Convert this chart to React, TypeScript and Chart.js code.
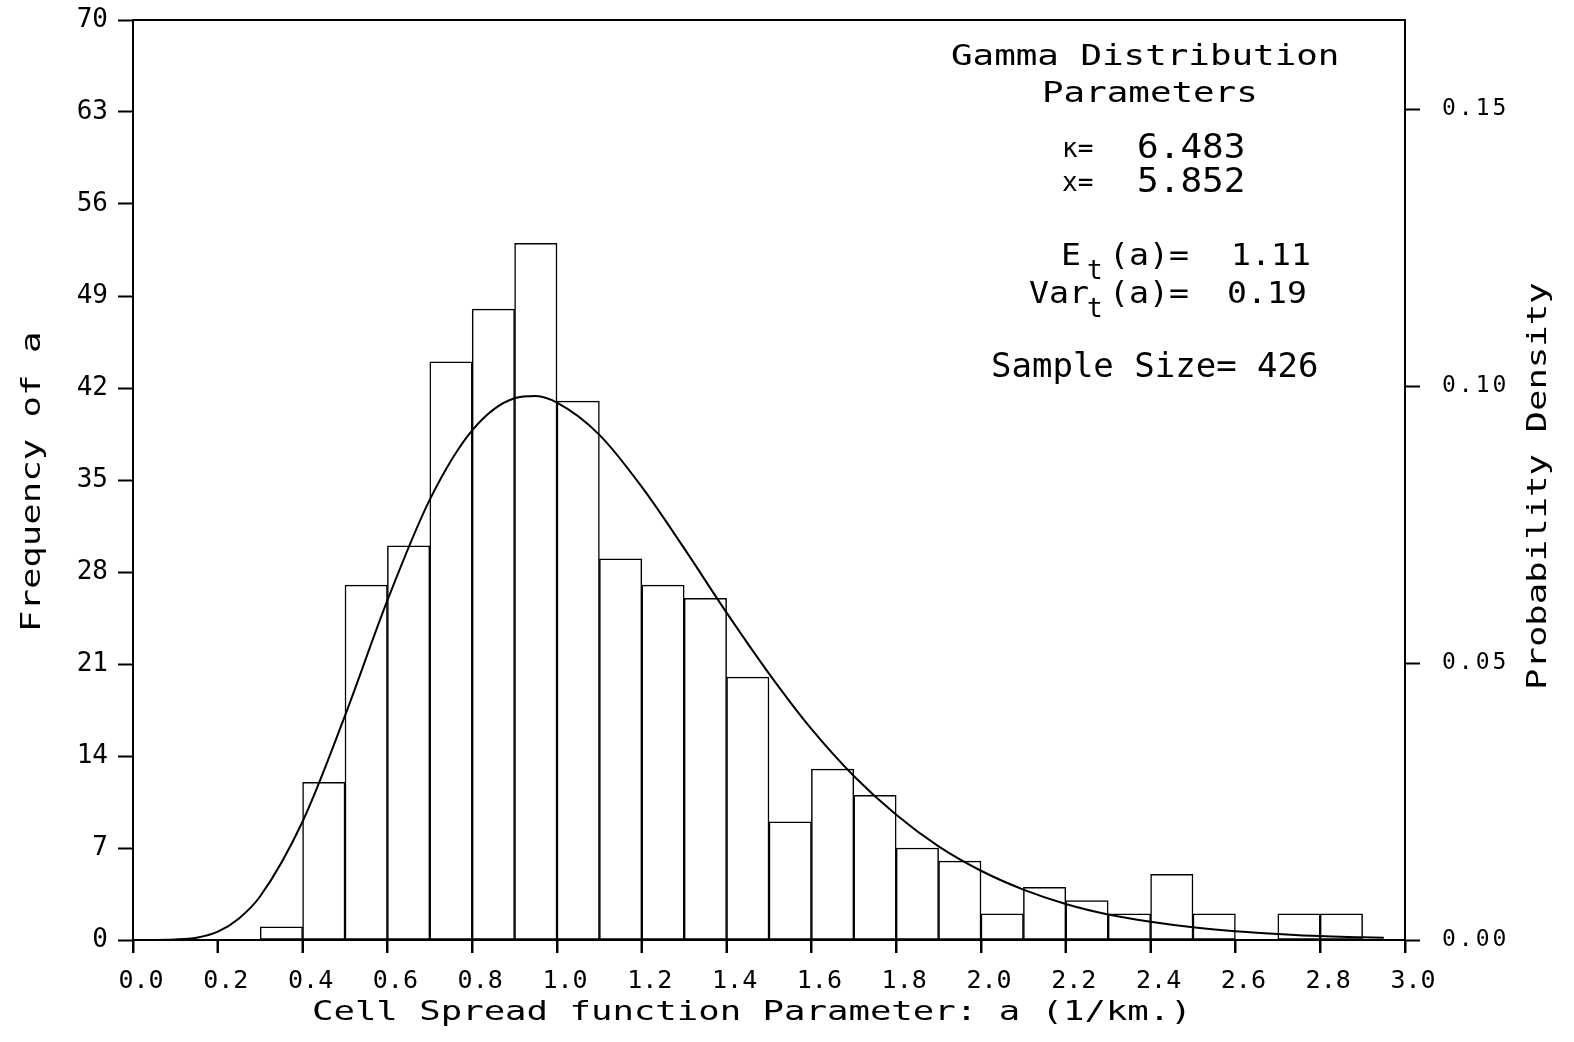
import React, { useEffect, useRef } from 'react';
import { Chart, LinearScale, registerables } from 'chart.js';

const FONT_FAMILY = '"DejaVu Sans Mono", monospace';
const INK = '#000000';

// Histogram classes of the cell spread parameter a (1/km), 0.1 wide
const binLower = [0.3, 0.4, 0.5, 0.6, 0.7, 0.8, 0.9, 1.0, 1.1, 1.2, 1.3, 1.4, 1.5, 1.6, 1.7, 1.8, 1.9, 2.0, 2.1, 2.2, 2.3, 2.4, 2.5, 2.6, 2.7, 2.8];
const binWidth = 0.1;
const frequency = [1, 12, 27, 30, 44, 48, 53, 41, 29, 27, 26, 20, 9, 13, 11, 7, 6, 2, 4, 3, 2, 5, 2, 0, 2, 2];

// Fitted gamma density (probability per class), read against the right axis
const curveA = [0.0, 0.1, 0.15, 0.2, 0.25, 0.3, 0.4, 0.5, 0.6, 0.7, 0.8, 0.9, 0.95, 1.0, 1.1, 1.2, 1.3, 1.4, 1.5, 1.6, 1.7, 1.8, 1.9, 2.0, 2.1, 2.2, 2.3, 2.4, 2.5, 2.6, 2.7, 2.8, 2.9, 2.95];
const curveDensity = [0, 0.0001, 0.0004, 0.0015, 0.0039, 0.0079, 0.0214, 0.0405, 0.0613, 0.0795, 0.092, 0.0978, 0.0982, 0.097, 0.0912, 0.0818, 0.0707, 0.0591, 0.0481, 0.0381, 0.0296, 0.0226, 0.0169, 0.0125, 0.0091, 0.0065, 0.0046, 0.0033, 0.0023, 0.0016, 0.0011, 0.0007, 0.0005, 0.0004];

// Axis ticks
const aTicks = [0.0, 0.2, 0.4, 0.6, 0.8, 1.0, 1.2, 1.4, 1.6, 1.8, 2.0, 2.2, 2.4, 2.6, 2.8, 3.0];
const aTickLabels = ['0.0', '0.2', '0.4', '0.6', '0.8', '1.0', '1.2', '1.4', '1.6', '1.8', '2.0', '2.2', '2.4', '2.6', '2.8', '3.0'];
const freqTicks = [0, 7, 14, 21, 28, 35, 42, 49, 56, 63, 70];
const freqTickLabels = ['0', '7', '14', '21', '28', '35', '42', '49', '56', '63', '70'];
const densityTicks = [0, 0.05, 0.1, 0.15];
const densityTickLabels = ['0.00', '0.05', '0.10', '0.15'];
const densityMax = 0.1661;

const xTitle = 'Cell Spread function Parameter: a (1/km.)';
const yTitle = 'Frequency of a';
const y1Title = 'Probability Density';

// size = font px, sx = horizontal stretch of the glyphs (plotter lettering is wide)
type TextItem = { text: string; x: number; y: number; size: number; sx: number; rotate?: boolean };

// Titles and the parameter block, placed by baseline-left point
const TEXTS: TextItem[] = [
  { text: xTitle, x: 312, y: 1020, size: 27, sx: 1.32 },
  { text: yTitle, x: 40, y: 632, size: 27, sx: 1.32, rotate: true },
  { text: y1Title, x: 1546, y: 690, size: 27, sx: 1.32, rotate: true },
  { text: 'Gamma Distribution', x: 951, y: 65, size: 28, sx: 1.28 },
  { text: 'Parameters', x: 1042, y: 102, size: 28, sx: 1.28 },
  { text: 'κ=', x: 1062, y: 157, size: 26, sx: 1.0 },
  { text: '6.483', x: 1137, y: 158, size: 34, sx: 1.06 },
  { text: 'x=', x: 1062, y: 191, size: 26, sx: 1.0 },
  { text: '5.852', x: 1137, y: 192, size: 34, sx: 1.06 },
  { text: 'E', x: 1061, y: 265, size: 31, sx: 1.07 },
  { text: 't', x: 1087, y: 279, size: 26, sx: 1.0 },
  { text: '(a)=', x: 1109, y: 265, size: 31, sx: 1.07 },
  { text: '1.11', x: 1231, y: 265, size: 31, sx: 1.07 },
  { text: 'Var', x: 1029, y: 303, size: 31, sx: 1.07 },
  { text: 't', x: 1087, y: 317, size: 26, sx: 1.0 },
  { text: '(a)=', x: 1109, y: 303, size: 31, sx: 1.07 },
  { text: '0.19', x: 1227, y: 303, size: 31, sx: 1.07 },
  { text: 'Sample Size= 426', x: 991, y: 377, size: 34, sx: 1.0 },
];

// Tick label letter spacing / shift per axis
const LABEL_STYLE: Record<string, { spacing: number; shiftX: number }> = {
  x: { spacing: 0, shiftX: 8 },
  y: { spacing: 0, shiftX: 0 },
  y1: { spacing: 3, shiftX: 0 },
};
const X_TICK_LENGTH = 13;

class PlotterScale extends LinearScale {
  static id = 'plotterLinear';
  static defaults = LinearScale.defaults;

  drawLabels(chartArea: any) {
    const ctx = (this as any).ctx as CanvasRenderingContext2D;
    const style = LABEL_STYLE[(this as any).id] || { spacing: 0, shiftX: 0 };
    ctx.save();
    (ctx as any).letterSpacing = `${style.spacing}px`;
    ctx.translate(style.shiftX, 0);
    super.drawLabels(chartArea);
    ctx.restore();
  }
}

Chart.register(...registerables, PlotterScale);

const plotterText = {
  id: 'plotterText',
  afterDraw(chart: any) {
    const { ctx, chartArea } = chart;
    const xScale = chart.scales.x;
    ctx.save();
    ctx.strokeStyle = INK;
    ctx.lineWidth = 2;
    // top frame line
    ctx.beginPath();
    ctx.moveTo(chartArea.left - 1, chartArea.top);
    ctx.lineTo(chartArea.right + 1, chartArea.top);
    ctx.stroke();
    // outward tick marks under the a axis
    ctx.beginPath();
    for (const v of aTicks) {
      const px = Math.round(xScale.getPixelForValue(v));
      ctx.moveTo(px, chartArea.bottom);
      ctx.lineTo(px, chartArea.bottom + X_TICK_LENGTH);
    }
    ctx.stroke();

    ctx.fillStyle = INK;
    ctx.textAlign = 'left';
    ctx.textBaseline = 'alphabetic';
    for (const t of TEXTS) {
      ctx.save();
      ctx.font = `${t.size}px ${FONT_FAMILY}`;
      ctx.translate(t.x, t.y);
      if (t.rotate) ctx.rotate(-Math.PI / 2);
      ctx.scale(t.sx, 1);
      ctx.fillText(t.text, 0, 0);
      ctx.restore();
    }
    ctx.restore();
  },
};

const axisLine = { display: true, color: INK, width: 2 };

export default function App() {
  const canvasRef = useRef<HTMLCanvasElement | null>(null);

  useEffect(() => {
    const canvas = canvasRef.current;
    if (!canvas) return;

    const barData = binLower.map((lo, i) => ({ x: lo + binWidth / 2, y: frequency[i] }));
    const curveData = curveA.map((a, i) => ({ x: a, y: curveDensity[i] }));

    const chart = new Chart(canvas, {
      type: 'bar',
      data: {
        datasets: [
          {
            type: 'line',
            data: curveData,
            xAxisID: 'x',
            yAxisID: 'y1',
            borderColor: INK,
            borderWidth: 2,
            pointRadius: 0,
            fill: false,
            cubicInterpolationMode: 'monotone',
          } as any,
          {
            type: 'bar',
            data: barData,
            xAxisID: 'x',
            yAxisID: 'y',
            backgroundColor: '#ffffff',
            borderColor: INK,
            borderWidth: 1.5,
            borderSkipped: false,
            barPercentage: 1,
            categoryPercentage: 1,
          } as any,
        ],
      },
      options: {
        animation: false,
        responsive: false,
        maintainAspectRatio: false,
        events: [],
        layout: { padding: { top: 20, left: 0, right: 0, bottom: 0 } },
        plugins: { legend: { display: false }, tooltip: { enabled: false } },
        scales: {
          x: {
            type: 'plotterLinear' as any,
            position: 'bottom',
            min: 0,
            max: 3,
            offset: false,
            afterBuildTicks: (s: any) => {
              s.ticks = aTicks.map((v) => ({ value: v }));
            },
            afterFit: (s: any) => {
              s.height = 102;
              s.paddingLeft = 0;
              s.paddingRight = 0;
            },
            ticks: {
              autoSkip: false,
              maxRotation: 0,
              padding: 13,
              color: INK,
              font: { family: FONT_FAMILY, size: 25 },
              callback: (_v: any, i: number) => aTickLabels[i],
            },
            grid: {
              display: true,
              offset: false,
              drawOnChartArea: false,
              drawTicks: true,
              tickLength: X_TICK_LENGTH,
              tickWidth: 2,
              tickColor: INK,
            },
            border: axisLine,
          } as any,
          y: {
            type: 'plotterLinear' as any,
            position: 'left',
            min: 0,
            max: 70,
            afterBuildTicks: (s: any) => {
              s.ticks = freqTicks.map((v) => ({ value: v }));
            },
            afterFit: (s: any) => {
              s.width = 133;
              s.paddingTop = 0;
              s.paddingBottom = 0;
            },
            ticks: {
              padding: 10,
              color: INK,
              font: { family: FONT_FAMILY, size: 26 },
              callback: (_v: any, i: number) => freqTickLabels[i],
            },
            grid: { drawOnChartArea: false, drawTicks: true, tickLength: 15, tickWidth: 2, tickColor: INK },
            border: axisLine,
          } as any,
          y1: {
            type: 'plotterLinear' as any,
            position: 'right',
            min: 0,
            max: densityMax,
            afterBuildTicks: (s: any) => {
              s.ticks = densityTicks.map((v) => ({ value: v }));
            },
            afterFit: (s: any) => {
              s.width = 169;
              s.paddingTop = 0;
              s.paddingBottom = 0;
            },
            ticks: {
              padding: 22,
              color: INK,
              font: { family: FONT_FAMILY, size: 23 },
              callback: (_v: any, i: number) => densityTickLabels[i],
            },
            grid: { drawOnChartArea: false, drawTicks: true, tickLength: 15, tickWidth: 2, tickColor: INK },
            border: axisLine,
          } as any,
        },
      },
      plugins: [plotterText],
    });

    return () => {
      chart.destroy();
    };
  }, []);

  return (
    <div style={{ position: 'absolute', left: 0, top: 0, width: 1574, height: 1042, background: '#ffffff' }}>
      <canvas ref={canvasRef} width={1574} height={1042} style={{ display: 'block', width: 1574, height: 1042 }} />
    </div>
  );
}
